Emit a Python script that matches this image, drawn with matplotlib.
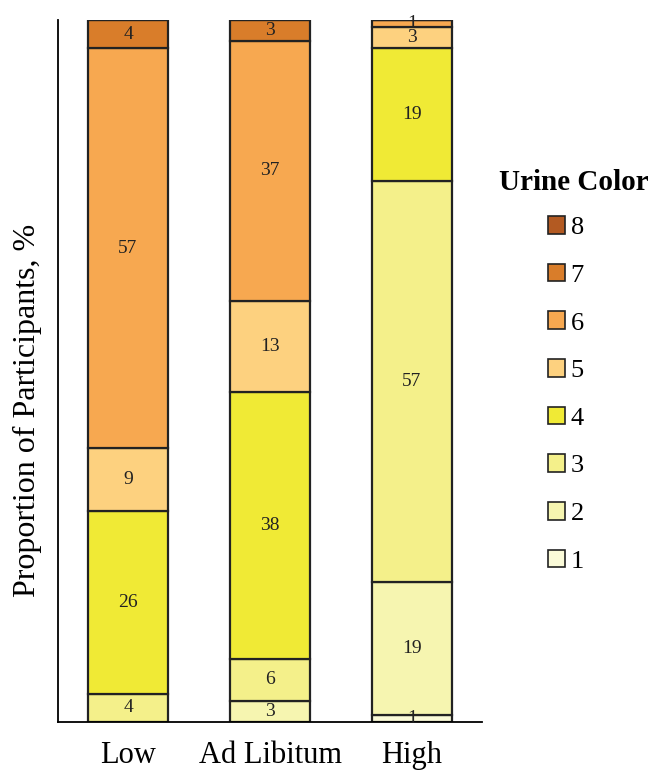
import matplotlib.pyplot as plt
import numpy as np
from matplotlib.patches import Patch

plt.rcParams['font.family'] = ['Liberation Serif', 'DejaVu Serif']

groups = ["Low", "Ad Libitum", "High"]
levels = ["1", "2", "3", "4", "5", "6", "7", "8"]
colors = ["#FAFAD8", "#F6F5B0", "#F4F08A", "#F0EA35",
          "#FDD17F", "#F7A850", "#D97D2A", "#B35A22"]

# percentages per urine color level (1..8) for each group
low = [0, 0, 4, 26, 9, 57, 4, 0]
ad_lib = [0, 3, 6, 38, 13, 37, 3, 0]
high = [1, 19, 57, 19, 3, 1, 0, 0]

data = np.array([low, ad_lib, high])

fig = plt.figure(figsize=(6.52, 7.72), dpi=100)
ax = fig.add_axes([58 / 652, 50 / 772, 424 / 652, 702 / 772])

x = np.arange(len(groups))
bottom = np.zeros(len(groups))
for i, lvl in enumerate(levels):
    vals = data[:, i]
    ax.bar(x, vals, width=0.563, bottom=bottom, color=colors[i],
           edgecolor="#222222", linewidth=1.6)
    for j, v in enumerate(vals):
        if v > 0:
            ax.text(x[j], bottom[j] + v / 2, str(v), ha="center", va="center",
                    fontsize=14, color="#222222")
    bottom += vals

ax.set_xlim(-0.493, 2.493)
ax.set_ylim(0, 100)
ax.set_xticks(x)
ax.set_xticklabels(groups, fontsize=22)
ax.tick_params(axis="x", length=0, pad=14)
ax.set_yticks([])
ax.set_ylabel("Proportion of Participants, %", fontsize=23)
ax.yaxis.set_label_coords(-0.037, 0.444)
for s in ["top", "right"]:
    ax.spines[s].set_visible(False)
ax.spines["left"].set_linewidth(1.3)
ax.spines["bottom"].set_linewidth(1.3)

# legend: title placed separately, entries top to bottom 8..1
fig.text(574 / 652, 1 - 183 / 772, "Urine Color", ha="center", va="center",
         fontsize=21, fontweight="bold")
handles = [Patch(facecolor=colors[i], edgecolor="#222222", linewidth=1.2,
                 label=levels[i]) for i in range(len(levels) - 1, -1, -1)]
fig.legend(handles=handles, loc="upper left",
           bbox_to_anchor=(535 / 652, 1 - 203 / 772), frameon=False,
           borderpad=0, fontsize=19, handlelength=0.65,
           handleheight=0.65, handletextpad=0.2, labelspacing=0.93)

fig.savefig("out.png", dpi=100)
